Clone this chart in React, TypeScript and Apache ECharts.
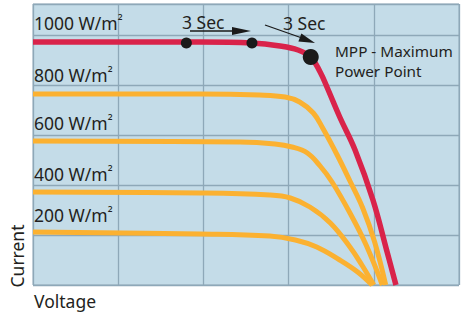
import React, { useEffect, useRef } from "react";
import * as echarts from "echarts";

// Voltage (x) / current (y) readings, arbitrary units (grid step = 1)
const curve1000: [number, number][] = [
  [0, 4.86], [1.96, 4.86], [2.57, 4.84], [2.9, 4.78], [3.11, 4.7], [3.26, 4.56],
  [3.37, 4.26], [3.45, 3.96], [3.6, 3.36], [3.78, 2.7], [3.99, 1.7], [4.15, 0.7],
  [4.26, 0],
];
const curve800: [number, number][] = [
  [0, 3.82], [1.96, 3.82], [2.66, 3.8], [2.96, 3.76], [3.13, 3.66], [3.29, 3.44],
  [3.4, 3.14], [3.57, 2.6], [3.72, 2.08], [3.87, 1.54], [4.01, 0.86], [4.14, 0],
];
const curve600: [number, number][] = [
  [0, 2.88], [2.43, 2.86], [2.84, 2.82], [3.04, 2.76], [3.22, 2.64], [3.37, 2.38],
  [3.51, 2.06], [3.72, 1.44], [3.91, 0.8], [4.1, 0],
];
const curve400: [number, number][] = [
  [0, 1.86], [1.96, 1.84], [2.78, 1.8], [3.02, 1.74], [3.25, 1.56], [3.49, 1.24],
  [3.72, 0.76], [3.86, 0.4], [4.0, 0],
];
const curve200: [number, number][] = [
  [0, 1.06], [1.96, 1.02], [2.78, 0.98], [3.08, 0.9], [3.33, 0.76], [3.6, 0.5],
  [3.81, 0.26], [3.98, 0],
];
const trackingPoints: [number, number][] = [[1.8, 4.84], [2.57, 4.84]];
const mppPoint: [number, number][] = [[3.26, 4.56]];

const irradianceValues = ["1000", "800", "600", "400", "200"];
const labelYs = [23, 75, 123, 174, 215];

const FONT = "'Noto Sans', sans-serif";
const TXT = "#231f20";
const RED = "#d9234a";
const YELLOW = "#fbb131";

export default function App() {
  const ref = useRef<HTMLDivElement>(null);
  useEffect(() => {
    if (!ref.current) return;
    const chart = echarts.init(ref.current, undefined, { renderer: "svg" });
    const yellowSeries = (data: [number, number][]) => ({
      type: "line",
      data,
      smooth: 0.4,
      symbol: "none",
      lineStyle: { color: YELLOW, width: 5 },
      z: 2,
    });
    const texts: any[] = irradianceValues.map((t, i) => ({
      type: "text",
      x: 34,
      y: labelYs[i],
      style: {
        text: `{n|${t} W/m}{s|²}`,
        fill: TXT,
        verticalAlign: "middle",
        rich: {
          n: { fontSize: 17.5, fontFamily: FONT, fill: TXT, color: TXT },
          s: { fontSize: 14, fontFamily: FONT, fill: TXT, color: TXT, verticalAlign: "top", lineHeight: 20 },
        },
      },
      z: 10,
    }));
    chart.setOption({
      animation: false,
      grid: {
        left: 33, top: 4, width: 426, height: 281,
        show: true, backgroundColor: "#c4dce8", borderColor: "#93abba", borderWidth: 1,
      },
      xAxis: {
        type: "value", min: 0, max: 5, interval: 1,
        axisLine: { show: false }, axisTick: { show: false }, axisLabel: { show: false },
        splitLine: { show: true, lineStyle: { color: "#8ea8b8", width: 1.3 } },
      },
      yAxis: {
        type: "value", min: 0, max: 5.62, interval: 1,
        axisLine: { show: false }, axisTick: { show: false }, axisLabel: { show: false },
        splitLine: { show: true, lineStyle: { color: "#8ea8b8", width: 1.3 } },
      },
      series: [
        yellowSeries(curve200),
        yellowSeries(curve400),
        yellowSeries(curve600),
        yellowSeries(curve800),
        {
          type: "line", data: curve1000, smooth: 0.4, symbol: "none",
          lineStyle: { color: RED, width: 5.5 }, z: 3,
        },
        {
          type: "scatter", data: trackingPoints, symbolSize: 11,
          itemStyle: { color: "#1a1a1a", opacity: 1 }, z: 5,
        },
        {
          type: "scatter", data: mppPoint, symbolSize: 16,
          itemStyle: { color: "#1a1a1a", opacity: 1 }, z: 5,
        },
      ],
      graphic: [
        ...texts,
        { type: "text", x: 182, y: 22, style: { text: "3 Sec", font: `17.5px ${FONT}`, fill: TXT, verticalAlign: "middle" }, z: 10 },
        { type: "text", x: 283, y: 23, style: { text: "3 Sec", font: `17.5px ${FONT}`, fill: TXT, verticalAlign: "middle" }, z: 10 },
        { type: "text", x: 335, y: 51, style: { text: "MPP - Maximum", font: `15.3px ${FONT}`, fill: TXT, verticalAlign: "middle" }, z: 10 },
        { type: "text", x: 335, y: 71, style: { text: "Power Point", font: `15.3px ${FONT}`, fill: TXT, verticalAlign: "middle" }, z: 10 },
        { type: "text", x: 34, y: 301, style: { text: "Voltage", font: `17.5px ${FONT}`, fill: TXT, verticalAlign: "middle" }, z: 10 },
        {
          type: "text", x: 17, y: 256, rotation: Math.PI / 2,
          style: { text: "Current", font: `17.5px ${FONT}`, fill: TXT, align: "center", verticalAlign: "middle" }, z: 10,
        },
        { type: "line", shape: { x1: 190, y1: 31, x2: 238, y2: 31 }, style: { stroke: "#1a1a1a", lineWidth: 1.3 }, z: 10 },
        { type: "polygon", shape: { points: [[232, 27], [251, 31], [232, 35]] }, style: { fill: "#1a1a1a" }, z: 10 },
        { type: "line", shape: { x1: 265, y1: 25, x2: 302, y2: 38 }, style: { stroke: "#1a1a1a", lineWidth: 1.3 }, z: 10 },
        { type: "polygon", shape: { points: [[301.4, 33.6], [315, 43], [298.4, 41.4]] }, style: { fill: "#1a1a1a" }, z: 10 },
      ],
    });
    return () => chart.dispose();
  }, []);
  return <div ref={ref} style={{ width: 461, height: 312, position: "absolute", left: 0, top: 0 }} />;
}
